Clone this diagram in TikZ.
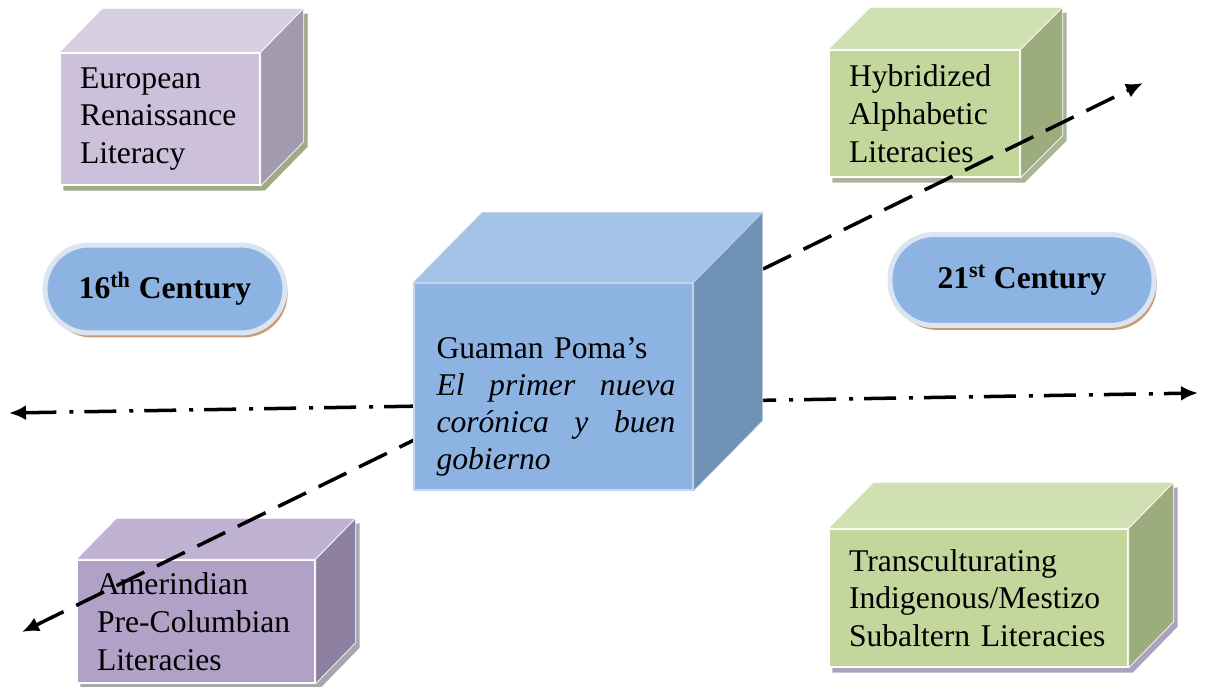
\documentclass[tikz,border=0pt]{standalone}
\usepackage{fontspec}
\setmainfont{Liberation Serif}
\usetikzlibrary{arrows.meta,positioning,calc,backgrounds,shadows}
\definecolor{eurfront}{RGB}{204,192,218}
\definecolor{eurtop}{RGB}{216,207,227}
\definecolor{eurside}{RGB}{163,154,176}
\definecolor{amefront}{RGB}{178,161,199}
\definecolor{ametop}{RGB}{192,178,210}
\definecolor{ameside}{RGB}{142,128,160}
\definecolor{greenfront}{RGB}{195,214,155}
\definecolor{greentop}{RGB}{209,224,178}
\definecolor{greenside}{RGB}{157,172,124}
\definecolor{cenfront}{RGB}{141,179,226}
\definecolor{centop}{RGB}{163,194,232}
\definecolor{censide}{RGB}{112,145,182}
\definecolor{cenrim}{RGB}{196,214,238}
\definecolor{erafill}{RGB}{141,179,226}
\definecolor{erarim}{RGB}{219,229,241}
\definecolor{erashade}{RGB}{200,155,115}
\definecolor{eurshade}{RGB}{160,170,135}
\definecolor{hybshade}{RGB}{172,180,152}
\definecolor{ameshade}{RGB}{168,168,172}
\definecolor{trashade}{RGB}{172,162,192}

\begin{document}
\begin{tikzpicture}[
    x=0.02cm, y=-0.02cm,
    lit/.style={rectangle, draw=white, line width=0.8pt, fill=#1, align=left, inner xsep=0.4cm, inner ysep=0pt, font=\fontsize{18}{21.5}\selectfont},
    centxt/.style={align=left, text width=4.78cm, inner sep=0pt, font=\fontsize{18}{21}\selectfont},
    era/.style={rectangle, draw=erarim, line width=0.1cm, fill=erafill, rounded corners=0.88cm, font=\bfseries\fontsize{18}{21}\selectfont,
        drop shadow={fill=erashade, opacity=1, shadow xshift=1.5pt, shadow yshift=-2.5pt}},
    timeline/.style={{Latex[length=0.34cm,width=0.3cm]}-{Latex[length=0.34cm,width=0.3cm]}, line width=2pt, dash pattern=on 0.64cm off 0.26cm on 0.08cm off 0.22cm},
    transfer/.style={{Latex[length=0.34cm,width=0.3cm]}-{Latex[length=0.34cm,width=0.3cm]}, line width=2pt, dash pattern=on 0.62cm off 0.28cm}
]
\useasboundingbox (0,0) rectangle (1206,686);

% literacy boxes
\node[lit=eurfront, minimum width=4cm, minimum height=2.64cm, text width=3.2cm] (eur) at (160,119) {European\\ Renaissance\\ Literacy};
\node[lit=greenfront, minimum width=3.82cm, minimum height=2.54cm, text width=3.02cm] (hyb) at (924.5,113.5) {Hybridized\\ Alphabetic\\ Literacies};
\node[lit=amefront, minimum width=4.76cm, minimum height=2.46cm, text width=3.96cm] (ame) at (196,621.5) {Amerindian\\ Pre-Columbian\\ Literacies};
\node[lit=greenfront, minimum width=5.98cm, minimum height=2.76cm, text width=5.18cm] (tra) at (978.5,598) {Transculturating\\ Indigenous/Mestizo\\ Subaltern Literacies};

\foreach \n/\dx/\dy/\tc/\sc in {eur/43/-44/eurtop/eurside, hyb/42/-42/greentop/greenside, ame/40/-41/ametop/ameside, tra/45/-46/greentop/greenside}{
  \filldraw[draw=white, fill=\tc] (\n.north west) -- ++(\dx,\dy) -- ($(\n.north east)+(\dx,\dy)$) -- (\n.north east) -- cycle;
  \filldraw[draw=white, fill=\sc] (\n.north east) -- ++(\dx,\dy) -- ($(\n.south east)+(\dx,\dy)$) -- (\n.south east) -- cycle;
}

\begin{scope}[on background layer]
\foreach \n/\dx/\dy/\hc in {eur/43/-44/eurshade, hyb/42/-42/hybshade, ame/40/-41/ameshade, tra/45/-46/trashade}
  \fill[\hc] ([shift={(4,5)}]\n.south west) -- ([shift={(4,5)}]\n.north west) -- ($(\n.north east)+(\dx,\dy)+(4,5)$)
    -- ($(\n.south east)+(\dx,\dy)+(4,5)$) -- ([shift={(4,5)}]\n.south east) -- cycle;
\end{scope}

% century labels
\node[era, minimum width=4.8cm, minimum height=1.76cm] (c16) at (165,289) {16\textsuperscript{th} Century};
\node[era, minimum width=5.28cm, minimum height=1.82cm] (c21) at (1022,280) {21\textsuperscript{st} Century};

% time axes
\coordinate (past) at (9,413);
\coordinate (future) at (1198,393);
\coordinate (origin) at (22,632);
\coordinate (outcome) at (1143,83);
\draw[timeline] (past) -- (future);
\draw[transfer] (origin) -- (outcome);

% Guaman Poma
\node[lit=cenfront, draw=cenrim, minimum width=5.58cm, minimum height=4.14cm] (cen) at (553.5,386.5) {};
\filldraw[draw=cenrim, fill=centop] (cen.north west) -- ++(69,-70) -- ($(cen.north east)+(69,-70)$) -- (cen.north east) -- cycle;
\filldraw[draw=cenrim, fill=censide] (cen.north east) -- ++(69,-70) -- ($(cen.south east)+(69,-70)$) -- (cen.south east) -- cycle;
\node[centxt] (cenlbl) at (556,407) {Guaman Poma’s\\
  \makebox[4.78cm][s]{\itshape El\hfill primer\hfill nueva}\\
  \makebox[4.78cm][s]{\itshape corónica\hfill y\hfill buen}\\
  \textit{gobierno}};

\end{tikzpicture}
\end{document}
